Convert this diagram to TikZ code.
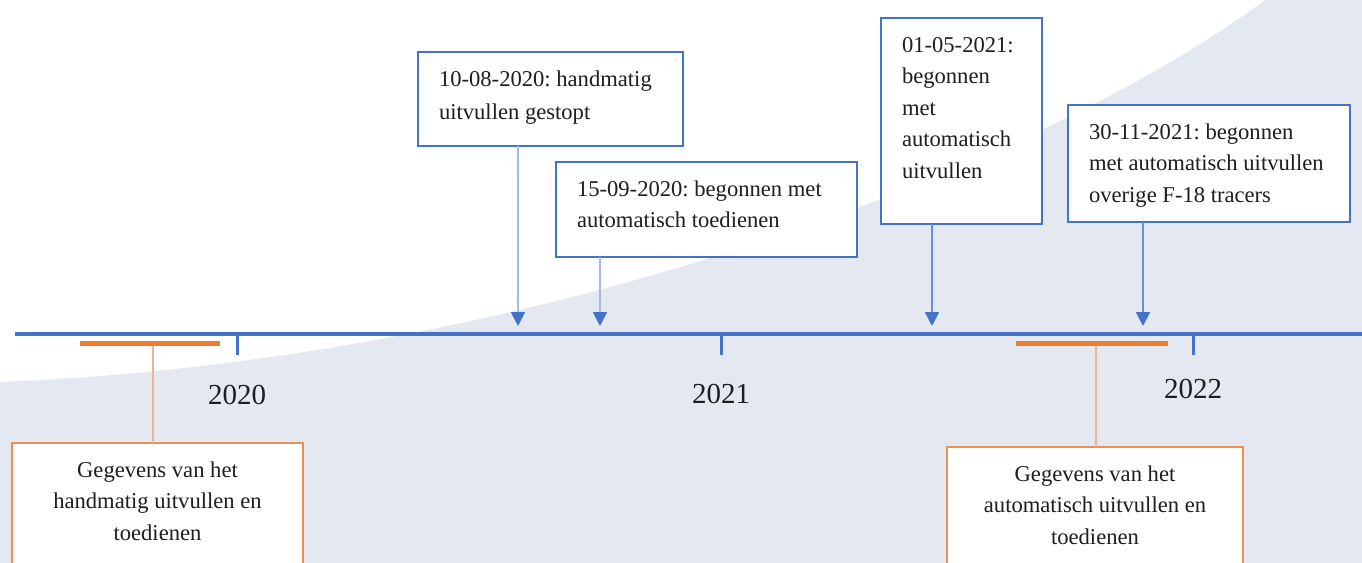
\documentclass[tikz,border=0pt]{standalone}
\usepackage{fontspec}
\setmainfont{Liberation Serif}
\usetikzlibrary{arrows.meta}
\definecolor{tlBlue}{HTML}{4472C4}
\definecolor{tlBlueLight}{HTML}{A3BAE6}
\definecolor{tlBlueMid}{HTML}{6A8ED4}
\definecolor{tlOrange}{HTML}{ED7D31}
\definecolor{tlOrangeLight}{HTML}{F2B48C}
\definecolor{tlShade}{HTML}{E4E8F0}
\definecolor{tlInk}{HTML}{1E1E1E}
\tikzset{
  timeline diagram/.style={
    x=0.5pt, y=-0.5pt,
    every node/.style={text=tlInk, outer sep=0pt},
    >={Triangle[length=7pt,width=7pt,color=tlBlue,fill=tlBlue]}
  },
  tl event/.style={draw=tlBlue, line width=1.25pt, fill=white,
    inner xsep=10.5pt, inner ysep=6pt, anchor=north west,
    font=\fontsize{11.3}{15.75}\selectfont\frenchspacing},
  tl period/.style={tl event, draw=tlOrange!85, line width=1pt},
  tl axis/.style={draw=tlBlue, line width=1.75pt},
  tl tick/.style={draw=tlBlue, line width=1.5pt},
  tl bar/.style={draw=tlOrange, line width=2.5pt},
  tl link/.style={draw=tlOrangeLight, line width=0.9pt},
  tl pointer/.style={->, line width=0.9pt}
}
\newcommand{\TlText}[4][\raggedright]{\parbox[c][#2][t]{#3}{#1\strut #4}}

\begin{document}
\begin{tikzpicture}[timeline diagram]
  \useasboundingbox (0,0) rectangle (1362,563);
  \clip (0,0) rectangle (1362,563);
  % shaded background
  \fill[tlShade] (0,382) .. controls (550,360) and (1050,160) .. (1265,0)
    -- (1362,0) -- (1362,563) -- (0,563) -- cycle;
  % axis with years
  \coordinate (axisStart) at (15,334);
  \coordinate (axisEnd) at (1362,334);
  \draw[tl axis] (axisStart) -- (axisEnd);
  \foreach \tlX/\tlYear/\tlY in {237/2020/395,721/2021/394,1193/2022/389} {
    \draw[tl tick] (\tlX,334) -- (\tlX,355);
    \node[font=\fontsize{14.5}{17}\selectfont] (year\tlYear) at (\tlX,\tlY) {\tlYear};
  }
  % periods below the axis
  \coordinate (manStart) at (80,343);
  \coordinate (manEnd) at (220,343);
  \coordinate (manMid) at (153,343);
  \coordinate (autoStart) at (1016,343);
  \coordinate (autoEnd) at (1168,343);
  \coordinate (autoMid) at (1096,343);
  \node[tl period] (manBox) at (12,443)
    {\TlText[\centering]{58pt}{124.5pt}{Gegevens van het\\ handmatig uitvullen en\\ toedienen}};
  \node[tl period] (autoBox) at (947,447)
    {\TlText[\centering]{58pt}{127pt}{Gegevens van het\\ automatisch uitvullen en\\ toedienen}};
  \draw[tl link] (manMid) -- (manMid |- manBox.north);
  \draw[tl link] (autoMid) -- (autoMid |- autoBox.north);
  \draw[tl bar] (manStart) -- (manEnd);
  \draw[tl bar] (autoStart) -- (autoEnd);
  % events above the axis
  \node[tl event] (evStop) at (418,52)
    {\TlText{35pt}{111.5pt}{10-08-2020: handmatig\\[0.75pt] uitvullen gestopt}};
  \node[tl event] (evDose) at (556,162)
    {\TlText{35.5pt}{129.5pt}{15-09-2020: begonnen met\\ automatisch toedienen}};
  \node[tl event] (evFill) at (881,18)
    {\TlText{91pt}{59.5pt}{01-05-2021:\\ begonnen\\ met\\ automatisch\\ uitvullen}};
  \node[tl event] (evTracer) at (1068,105)
    {\TlText{46.5pt}{120pt}{30-11-2021: begonnen\\ met automatisch uitvullen\\ overige F-18 tracers}};
  \coordinate (tStop) at (518,326);
  \coordinate (tDose) at (600,326);
  \coordinate (tFill) at (932,326);
  \coordinate (tTracer) at (1143,326);
  \draw[tl pointer, tlBlueLight] (evStop.south -| tStop) -- (tStop);
  \draw[tl pointer, tlBlueLight] (evDose.south -| tDose) -- (tDose);
  \draw[tl pointer, tlBlueMid] (evFill.south -| tFill) -- (tFill);
  \draw[tl pointer, tlBlueMid] (evTracer.south -| tTracer) -- (tTracer);
\end{tikzpicture}
\end{document}
